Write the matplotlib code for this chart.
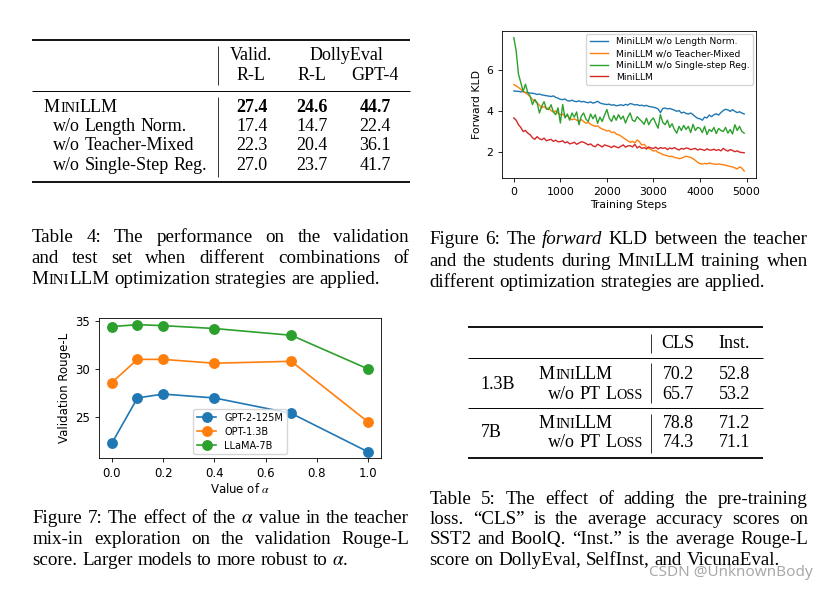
import re
import matplotlib.pyplot as plt

plt.rcParams['mathtext.fontset'] = 'stix'

# ---- Figure 6 data (forward KLD, every 50 steps) ----
kld_steps = list(range(0, 5000, 50))
kld_len_norm = [
    4.97, 4.96, 4.95, 4.93, 4.94, 4.90, 4.89, 4.87, 4.86, 4.84,
    4.80, 4.82, 4.78, 4.76, 4.74, 4.72, 4.70, 4.73, 4.66, 4.62,
    4.56, 4.55, 4.58, 4.50, 4.48, 4.52, 4.47, 4.45, 4.49, 4.44,
    4.46, 4.42, 4.40, 4.44, 4.38, 4.41, 4.47, 4.39, 4.35, 4.33,
    4.31, 4.33, 4.28, 4.30, 4.25, 4.27, 4.30, 4.26, 4.32, 4.28,
    4.36, 4.33, 4.29, 4.31, 4.26, 4.28, 4.24, 4.27, 4.22, 4.20,
    4.18, 4.15, 4.10, 3.92, 4.12, 4.14, 4.10, 4.12, 4.08, 4.04,
    3.98, 4.02, 3.90, 3.94, 3.88, 3.85, 3.90, 3.82, 3.72, 3.64,
    3.62, 3.55, 3.70, 3.66, 3.80, 3.72, 3.82, 3.86, 3.80, 3.92,
    4.02, 4.08, 4.05, 3.98, 4.06, 3.98, 3.92, 3.96, 3.90, 3.85,
]
kld_teacher_mixed = [
    5.28, 5.22, 5.14, 5.05, 4.95, 4.88, 4.80, 4.70, 4.55, 4.48,
    4.39, 4.28, 4.15, 4.22, 4.10, 4.15, 4.02, 3.95, 4.00, 3.88,
    3.82, 3.85, 3.72, 3.78, 3.65, 3.57, 3.62, 3.55, 3.50, 3.58,
    3.49, 3.40, 3.45, 3.35, 3.30, 3.25, 3.28, 3.18, 3.12, 3.08,
    3.03, 3.05, 2.95, 2.98, 2.88, 2.84, 2.78, 2.70, 2.62, 2.55,
    2.48, 2.52, 2.45, 2.59, 2.50, 2.34, 2.38, 2.25, 2.18, 2.12,
    2.05, 2.08, 1.98, 1.95, 1.88, 1.85, 1.82, 1.78, 1.80, 1.74,
    1.72, 1.68, 1.70, 1.75, 1.80, 1.77, 1.74, 1.68, 1.60, 1.50,
    1.44, 1.42, 1.45, 1.43, 1.47, 1.44, 1.42, 1.40, 1.43, 1.40,
    1.39, 1.36, 1.33, 1.30, 1.28, 1.23, 1.18, 1.28, 1.22, 1.08,
]
kld_single_step = [
    7.56, 6.93, 5.79, 5.38, 4.95, 5.30, 4.89, 4.72, 4.31, 4.56,
    4.39, 3.90, 4.23, 4.45, 4.10, 4.07, 4.30, 3.95, 3.82, 4.15,
    3.41, 4.31, 3.66, 3.85, 3.55, 3.90, 3.70, 3.95, 3.33, 3.75,
    3.90, 3.60, 3.49, 3.85, 3.62, 3.82, 3.40, 3.70, 3.49, 3.80,
    4.07, 3.65, 3.49, 3.78, 3.55, 3.82, 3.60, 3.75, 3.41, 3.70,
    3.90, 3.55, 3.49, 3.72, 3.60, 3.49, 3.35, 3.65, 3.33, 3.55,
    3.66, 3.40, 3.16, 3.82, 3.45, 3.33, 3.55, 3.20, 3.38, 3.10,
    2.92, 3.25, 3.05, 3.30, 3.10, 3.25, 2.95, 3.35, 3.05, 3.20,
    3.16, 2.95, 3.25, 2.85, 3.10, 3.00, 3.20, 2.90, 3.15, 3.05,
    3.00, 3.20, 2.92, 3.10, 2.88, 3.33, 3.05, 3.25, 3.00, 2.92,
]
kld_minillm = [
    3.66, 3.55, 3.33, 3.20, 3.00, 3.05, 2.92, 2.85, 2.70, 2.62,
    2.75, 2.65, 2.60, 2.68, 2.55, 2.59, 2.62, 2.52, 2.58, 2.50,
    2.51, 2.55, 2.45, 2.50, 2.40, 2.43, 2.48, 2.38, 2.44, 2.50,
    2.48, 2.42, 2.35, 2.40, 2.30, 2.26, 2.38, 2.32, 2.25, 2.35,
    2.31, 2.28, 2.22, 2.30, 2.25, 2.21, 2.28, 2.35, 2.24, 2.30,
    2.31, 2.25, 2.38, 2.20, 2.28, 2.18, 2.22, 2.15, 2.25, 2.20,
    2.18, 2.24, 2.15, 2.22, 2.18, 2.21, 2.12, 2.20, 2.16, 2.22,
    2.15, 2.10, 2.18, 2.14, 2.20, 2.18, 2.12, 2.15, 2.18, 2.10,
    2.15, 2.12, 2.08, 2.16, 2.10, 2.10, 2.14, 2.08, 2.12, 2.06,
    2.18, 2.10, 2.05, 2.12, 2.08, 2.02, 2.06, 2.00, 1.98, 1.97,
]
kld_labels = ['MiniLLM w/o Length Norm.', 'MiniLLM w/o Teacher-Mixed',
              'MiniLLM w/o Single-step Reg.', 'MiniLLM']

# ---- Figure 7 data ----
alpha_vals = [0.0, 0.1, 0.2, 0.4, 0.7, 1.0]
rouge_gpt2 = [22.3, 27.0, 27.4, 27.0, 25.4, 21.4]
rouge_opt = [28.6, 31.0, 31.0, 30.6, 30.8, 24.5]
rouge_llama = [34.4, 34.6, 34.5, 34.2, 33.5, 30.0]
model_names = ['GPT-2-125M', 'OPT-1.3B', 'LLaMA-7B']

# ---- Table 4 ----  ({..} = small caps)
t4_rows = ['M{ini}LLM', 'w/o Length Norm.', 'w/o Teacher-Mixed', 'w/o Single-Step Reg.']
t4_valid_rl = ['27.4', '17.4', '22.3', '27.0']
t4_dolly_rl = ['24.6', '14.7', '20.4', '23.7']
t4_dolly_gpt4 = ['44.7', '22.4', '36.1', '41.7']

# ---- Table 5 ----
t5_sizes = ['1.3B', '7B']
t5_methods = ['M{ini}LLM', 'w/o PT L{oss}']
t5_cls = [['70.2', '65.7'], ['78.8', '74.3']]
t5_inst = [['52.8', '53.2'], ['71.2', '71.1']]

# ---- captions ----
cap_t4 = ['Table 4:  The performance on the validation',
          'and test set when different combinations of',
          'M{ini}LLM optimization strategies are applied.']
cap_f6 = ['Figure 6: The *forward* KLD between the teacher',
          'and the students during M{ini}LLM training when',
          'different optimization strategies are applied.']
cap_f7 = ['Figure 7: The effect of the $\\alpha$ value in the teacher',
          'mix-in exploration on the validation Rouge-L',
          'score. Larger models to more robust to $\\alpha$.']
cap_t5 = ['Table 5: The effect of adding the pre-training',
          'loss. \u201cCLS\u201d is the average accuracy scores on',
          'SST2 and BoolQ. \u201cInst.\u201d is the average Rouge-L',
          'score on DollyEval, SelfInst, and VicunaEval.']

W, H = 829, 591
fig = plt.figure(figsize=(W / 100, H / 100), dpi=100)
page = fig.add_axes([0, 0, 1, 1])
page.set_xlim(0, W)
page.set_ylim(H, 0)
page.axis('off')
renderer = fig.canvas.get_renderer()

SERIF = 'Liberation Serif'
FS = 13      # tables
CAP = 13.7   # captions


def parse(word):
    out = []
    for part in re.split(r'(\{[^}]*\}|\*[^*]*\*)', word):
        if not part:
            continue
        if part[0] == '{':
            out.append((part[1:-1].upper(), 'sc'))
        elif part[0] == '*':
            out.append((part[1:-1], 'it'))
        else:
            out.append((part, 'rm'))
    return out


def seg_kw(style, size, weight):
    kw = dict(family=SERIF, size=size, weight=weight)
    if style == 'sc':
        kw['size'] = size * 0.78
    if style == 'it':
        kw['style'] = 'italic'
    return kw


def seg_width(s, kw):
    t = page.text(0, 0, s, **kw)
    w = t.get_window_extent(renderer).width
    t.remove()
    return w


def word_width(word, size, weight='normal'):
    return sum(seg_width(s, seg_kw(st, size, weight)) for s, st in parse(word))


def draw_word(x, y, word, size, weight='normal'):
    for s, st in parse(word):
        kw = seg_kw(st, size, weight)
        page.text(x, y, s, va='baseline', ha='left', **kw)
        x += seg_width(s, kw)


def space_width(size):
    kw = dict(family=SERIF, size=size)
    return seg_width('a a', kw) - seg_width('aa', kw)


def rich(x, y, text, size=FS, ha='left', weight='normal'):
    words = text.split()
    sp = space_width(size)
    widths = [word_width(w, size, weight) for w in words]
    total = sum(widths) + sp * (len(words) - 1)
    if ha == 'center':
        x -= total / 2
    elif ha == 'right':
        x -= total
    for w, wd in zip(words, widths):
        draw_word(x, y, w, size, weight)
        x += wd + sp


def paragraph(x0, x1, y0, lines, lead, size=CAP):
    # justified lines, last one left aligned
    for i, line in enumerate(lines):
        y = y0 + i * lead
        if i == len(lines) - 1:
            rich(x0, y, line, size)
            continue
        words = line.split()
        widths = [word_width(w, size) for w in words]
        gap = (x1 - x0 - sum(widths)) / (len(words) - 1)
        x = x0
        for w, wd in zip(words, widths):
            draw_word(x, y, w, size)
            x += wd + gap


def hrule(y, x0, x1, lw):
    page.plot([x0, x1], [y, y], color='black', lw=lw, solid_capstyle='butt')


def vrule(x, y0, y1):
    page.plot([x, x], [y0, y1], color='#333333', lw=0.7, solid_capstyle='butt')


# ---------------- Table 4 ----------------
hrule(40, 32, 410, 1.3)
rich(251, 60, 'Valid.', ha='center')
rich(346.7, 60, 'DollyEval', ha='center')
rich(251, 80.5, 'R-L', ha='center')
rich(311.7, 80.5, 'R-L', ha='center')
rich(375, 80.5, 'GPT-4', ha='center')
vrule(218.3, 46, 85)
hrule(90.7, 32, 410, 0.7)
for i, name in enumerate(t4_rows):
    y = 111.7 + i * 19.3
    wt = 'bold' if i == 0 else 'normal'
    rich(44 if i == 0 else 53.3, y, name)
    rich(251.7, y, t4_valid_rl[i], ha='center', weight=wt)
    rich(311.7, y, t4_dolly_rl[i], ha='center', weight=wt)
    rich(375, y, t4_dolly_gpt4[i], ha='center', weight=wt)
vrule(218.3, 96.7, 176.7)
hrule(181.7, 32, 410, 1.3)
paragraph(31.7, 409, 242.3, cap_t4, 21.1)

# ---------------- Table 5 ----------------
hrule(326.7, 468.3, 763.3, 1.3)
rich(678.3, 348.3, 'CLS', ha='center')
rich(734, 348.3, 'Inst.', ha='center')
vrule(650.7, 334, 353)
hrule(357.7, 468.3, 763.3, 0.7)
for g, size in enumerate(t5_sizes):
    y0 = 379.3 + g * 48.4
    rich(480.7, y0 + 9.5, size)
    rich(539, y0, t5_methods[0])
    rich(548.3, y0 + 19.3, t5_methods[1])
    for j in range(2):
        rich(678.3, y0 + j * 19.3, t5_cls[g][j], ha='center')
        rich(735, y0 + j * 19.3, t5_inst[g][j], ha='center')
    vrule(650.7, 363.3 + g * 51, 403.3 + g * 50)
    if g == 0:
        hrule(408.3, 468.3, 763.3, 0.7)
hrule(457.7, 468.3, 763.3, 1.3)
paragraph(429.3, 808, 504, cap_t5, 20.2)

# ---------------- Figure 6 ----------------
paragraph(429.3, 808, 244.3, cap_f6, 21.2)
ax1 = fig.add_axes([502.3 / W, 1 - 177.7 / H, 253.4 / W, 146.7 / H])
for ys, lab in zip([kld_len_norm, kld_teacher_mixed, kld_single_step, kld_minillm], kld_labels):
    ax1.plot(kld_steps, ys, lw=1.0, label=lab)
ax1.set_xticks([0, 1000, 2000, 3000, 4000, 5000])
ax1.set_yticks([2, 4, 6])
ax1.tick_params(labelsize=7.8, length=3, width=0.6, pad=3.5)
ax1.set_xlabel('Training Steps', fontsize=7.8, labelpad=2.5)
ax1.set_ylabel('Forward KLD', fontsize=7.8, labelpad=3)
for s in ax1.spines.values():
    s.set_linewidth(0.6)
ax1.legend(loc='upper right', fontsize=6.6, handlelength=2.0, borderpad=0.4,
           labelspacing=0.3, borderaxespad=0.3)

# ---------------- Figure 7 ----------------
paragraph(32.7, 409, 523.3, cap_f7, 20.9)
ax2 = fig.add_axes([99 / W, 1 - 458.3 / H, 282 / W, 140 / H])
for ys, lab in zip([rouge_gpt2, rouge_opt, rouge_llama], model_names):
    ax2.plot(alpha_vals, ys, marker='o', markersize=6.8, lw=1.2, label=lab)
ax2.set_yticks([25, 30, 35])
ax2.tick_params(labelsize=8.5, length=3, width=0.6, pad=3.5)
ax2.set_xlabel('Value of $\\alpha$', fontsize=8.5, labelpad=1.5)
ax2.set_ylabel('Validation Rouge-L', fontsize=8.5, labelpad=3)
for s in ax2.spines.values():
    s.set_linewidth(0.6)
ax2.legend(loc='lower center', fontsize=7, borderpad=0.4, labelspacing=0.4,
           handlelength=2.0, borderaxespad=0.4)

# watermark
page.text(813, 573, 'CSDN @UnknownBody', ha='right', va='center', color='#9a9a9a',
          alpha=0.85, family='Noto Sans', size=11)

fig.savefig('out.png', dpi=100)
